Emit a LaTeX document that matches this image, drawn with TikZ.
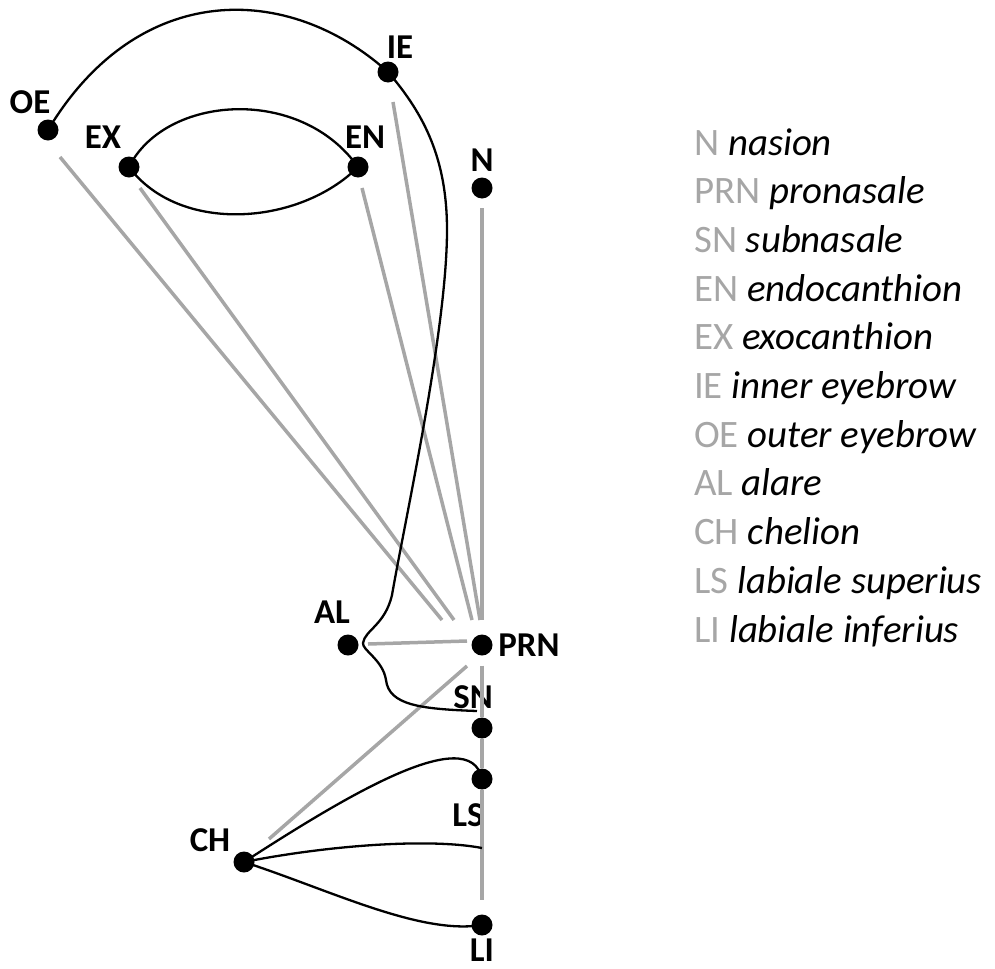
\documentclass[tikz,border=0pt]{standalone}
\usepackage{fontspec}
\setmainfont{Carlito}
\usetikzlibrary{calc}
\definecolor{linegray}{RGB}{166,166,166}
\tikzset{
  landmark/.style={circle, fill=black, inner sep=0pt, minimum size=21bp},
  lab/.style={font=\fontsize{35}{42}\selectfont\bfseries, inner sep=0pt},
  legend/.style={font=\fontsize{39}{46}\selectfont, anchor=base west, inner sep=0pt},
  grayline/.style={linegray, line width=3.5bp},
  curve/.style={black, line width=2.3bp},
}

\begin{document}
\begin{tikzpicture}[x=1bp, y=-1bp]
  \useasboundingbox (0,0) rectangle (995,969);

  % landmarks
  \node[landmark] (OE)  at (48,130)  {};
  \node[landmark] (EX)  at (129,167) {};
  \node[landmark] (EN)  at (358,167) {};
  \node[landmark] (IE)  at (388,72)  {};
  \node[landmark] (N)   at (482,188) {};
  \node[landmark] (AL)  at (348,645) {};
  \node[landmark] (PRN) at (482,645) {};
  \node[landmark] (SN)  at (482,728) {};
  \node[landmark] (LS)  at (482,779) {};
  \node[landmark] (CH)  at (244,862) {};
  \node[landmark] (LI)  at (482,925) {};
  \coordinate (ST) at (482,848);

  % labels
  \foreach \p/\o in {OE/{-18,-28}, EX/{-26,-30}, EN/{7,-30}, IE/{12,-25},
      N/{0,-28}, AL/{-16,-33}, PRN/{47,0}, SN/{-9,-31}, LS/{-14,36},
      CH/{-34,-22}, LI/{0,25}}
    \node[lab] at ($(\p)+(\o)$) {\p};

  % gray lines to the nose tip
  \foreach \p/\s/\e in {OE/{12,27}/{-40,-25}, EX/{11,21}/{-28,-25},
      EN/{4,21}/{-10,-25}, IE/{5,30}/{-2,-25}, N/{0,20}/{0,-25},
      AL/{20,-1}/{-15,-4}, CH/{25,-23}/{-15,21}}
    \draw[grayline] ($(\p)+(\s)$) -- ($(PRN)+(\e)$);
  \draw[grayline, shorten <=10bp] (PRN) -- (SN);
  \draw[grayline] (SN) -- (LS);
  \draw[grayline, shorten >=14bp] (LS) -- (LI);

  % eyebrow and profile
  \draw[curve] (OE.center) .. controls +(90,-150) and +(-100,-90) .. (IE.center);
  \draw[curve] (IE.center) .. controls (425,115) and (447,160) .. (447,230)
    .. controls (447,330) and (405,520) .. (392,595)
    .. controls (385,625) and (365,630) .. (363,643)
    .. controls (362,650) and (383,660) .. (386,680)
    .. controls (389,705) and (420,709) .. (477,711);

  % eye
  \draw[curve] (EX.center) .. controls +(36,-72) and +(-58,-82) .. (EN.center);
  \draw[curve] (EX.center) .. controls +(51,68) and +(-58,58) .. (EN.center);

  % lips
  \draw[curve] (CH.center) .. controls +(96,-62) and +(-12,-59) .. (LS.center);
  \draw[curve] (CH.center) .. controls +(86,-17) and +(-52,-10) .. (ST);
  \draw[curve] (CH.center) .. controls +(86,28) and +(-62,10) .. (LI.center);

  % legend
  \foreach \a/\t [count=\i from 0] in {N/nasion, PRN/pronasale, SN/subnasale,
      EN/endocanthion, EX/exocanthion, IE/inner eyebrow, OE/outer eyebrow,
      AL/alare, CH/chelion, LS/labiale superius, LI/labiale inferius}
    \node[legend] (leg\a) at (694,{155+48.7*\i}) {\textcolor{linegray}{\a} \textit{\t}};
\end{tikzpicture}
\end{document}
